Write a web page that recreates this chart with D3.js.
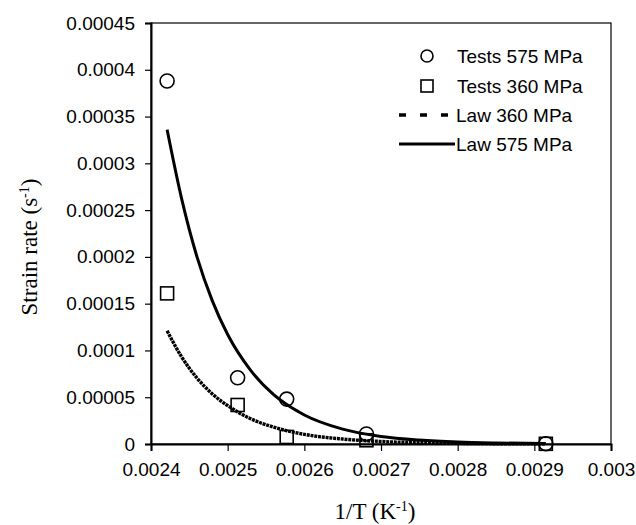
<!DOCTYPE html>
<html>
<head>
<meta charset="utf-8">
<script src="https://cdn.jsdelivr.net/npm/d3@7"></script>
<style>
  body { margin: 0; background: #fff; }
  svg { display: block; }
</style>
</head>
<body>
<svg id="chart" width="636" height="525"></svg>
<script>
// ---- data ----
const xTicks = [0.0024, 0.0025, 0.0026, 0.0027, 0.0028, 0.0029, 0.003];
const xTickLabels = ["0.0024", "0.0025", "0.0026", "0.0027", "0.0028", "0.0029", "0.003"];
const yTicks = [0, 0.00005, 0.0001, 0.00015, 0.0002, 0.00025, 0.0003, 0.00035, 0.0004, 0.00045];
const yTickLabels = ["0", "0.00005", "0.0001", "0.00015", "0.0002", "0.00025", "0.0003", "0.00035", "0.0004", "0.00045"];

// test points (1/T, strain rate)
const testX = [0.002421, 0.002513, 0.002577, 0.002681, 0.002915];
const tests575 = [0.000388, 0.0000708, 0.000048, 0.0000107, 0.0000003];
const tests360 = [0.000161, 0.0000417, 0.0000075, 0.000004, 0.0000002];

// law curves
const lawX = [0.002421, 0.00244, 0.00246, 0.00248, 0.0025, 0.00253, 0.00256, 0.0026, 0.00265, 0.0027, 0.00275, 0.0028, 0.00285, 0.002915];
const law575 = [0.000336, 0.000262, 0.000200, 0.000153, 0.000117, 0.0000787, 0.0000527, 0.0000310, 0.0000159, 0.0000081, 0.0000042, 0.0000021, 0.0000011, 0.0000005];
const law360 = [0.000121, 0.0000930, 0.0000705, 0.0000535, 0.0000410, 0.0000270, 0.0000180, 0.0000103, 0.0000053, 0.0000027, 0.0000014, 0.0000007, 0.0000003, 0.0000001];

const legendLabels = ["Tests 575 MPa", "Tests 360 MPa", "Law 360 MPa", "Law 575 MPa"];

// ---- layout ----
const svg = d3.select("#chart");
const margin = {left: 151, top: 23, right: 25, bottom: 81};
const W = 636, H = 525;
const iw = W - margin.left - margin.right;
const ih = H - margin.top - margin.bottom;

const x = d3.scaleLinear().domain([0.0024, 0.003]).range([0, iw]);
const y = d3.scaleLinear().domain([0, 0.00045]).range([ih, 0]);

const g = svg.append("g").attr("transform", `translate(${margin.left},${margin.top})`);

// frame (top/right)
g.append("rect").attr("x", 0).attr("y", 0).attr("width", iw).attr("height", ih)
  .attr("fill", "none").attr("stroke", "#000").attr("stroke-width", 1.2);

const tickFont = "'Liberation Sans', Arial, sans-serif";

// x axis
const xAxis = d3.axisBottom(x).tickValues(xTicks)
  .tickFormat((d, i) => xTickLabels[i]).tickSize(7).tickPadding(12);
const gx = g.append("g").attr("transform", `translate(0,${ih})`).call(xAxis);
gx.select(".domain").attr("stroke-width", 2);
gx.selectAll(".tick line").attr("stroke-width", 1.2);
gx.selectAll("text").attr("font-family", tickFont).attr("font-size", 19).attr("fill", "#000");

// y axis
const yAxis = d3.axisLeft(y).tickValues(yTicks)
  .tickFormat((d, i) => yTickLabels[i]).tickSize(6).tickPadding(10);
const gy = g.append("g").call(yAxis);
gy.select(".domain").attr("stroke-width", 2);
gy.selectAll(".tick line").attr("stroke-width", 1.2);
gy.selectAll("text").attr("font-family", tickFont).attr("font-size", 19).attr("fill", "#000");

// curves
const line = d3.line().x(d => x(d[0])).y(d => y(d[1])).curve(d3.curveMonotoneX);
g.append("path").datum(lawX.map((v, i) => [v, law575[i]]))
  .attr("d", line).attr("fill", "none").attr("stroke", "#000").attr("stroke-width", 3);
g.append("path").datum(lawX.map((v, i) => [v, law360[i]]))
  .attr("d", line).attr("fill", "none").attr("stroke", "#000").attr("stroke-width", 3.4)
  .attr("stroke-dasharray", "3,0.8");

// markers
const r = 7;
g.selectAll(".c575").data(testX.map((v, i) => [v, tests575[i]])).enter().append("circle")
  .attr("cx", d => x(d[0])).attr("cy", d => y(d[1])).attr("r", r)
  .attr("fill", "none").attr("stroke", "#000").attr("stroke-width", 1.6);
const s = 13;
g.selectAll(".s360").data(testX.map((v, i) => [v, tests360[i]])).enter().append("rect")
  .attr("x", d => x(d[0]) - s / 2).attr("y", d => y(d[1]) - s / 2)
  .attr("width", s).attr("height", s)
  .attr("fill", "none").attr("stroke", "#000").attr("stroke-width", 1.6);

// legend
const lg = svg.append("g");
const rowsY = [56, 86, 115, 144];
const textX = [457, 457, 456, 456];
lg.append("circle").attr("cx", 427).attr("cy", rowsY[0]).attr("r", 6)
  .attr("fill", "none").attr("stroke", "#000").attr("stroke-width", 1.6);
lg.append("rect").attr("x", 421).attr("y", rowsY[1] - 6).attr("width", 12).attr("height", 12)
  .attr("fill", "none").attr("stroke", "#000").attr("stroke-width", 1.6);
lg.append("line").attr("x1", 399).attr("x2", 448).attr("y1", rowsY[2]).attr("y2", rowsY[2])
  .attr("stroke", "#000").attr("stroke-width", 3.5).attr("stroke-dasharray", "7,14");
lg.append("line").attr("x1", 399).attr("x2", 455).attr("y1", rowsY[3]).attr("y2", rowsY[3])
  .attr("stroke", "#000").attr("stroke-width", 3);
legendLabels.forEach((t, i) => {
  lg.append("text").attr("x", textX[i]).attr("y", rowsY[i]).attr("dy", "0.35em")
    .attr("font-family", tickFont).attr("font-size", 19).attr("fill", "#000").text(t);
});

// axis titles
const titleFont = "'Liberation Serif', 'Times New Roman', serif";
const xt = svg.append("text").attr("x", 375).attr("y", 519).attr("text-anchor", "middle")
  .attr("font-family", titleFont).attr("font-size", 23).attr("fill", "#000");
xt.append("tspan").text("1/T (K");
xt.append("tspan").attr("dy", -8).attr("font-size", 14).text("-1");
xt.append("tspan").attr("dy", 8).text(")");

const yt = svg.append("text").attr("transform", "translate(37,247) rotate(-90)")
  .attr("text-anchor", "middle")
  .attr("font-family", titleFont).attr("font-size", 23).attr("fill", "#000");
yt.append("tspan").text("Strain rate (s");
yt.append("tspan").attr("dy", -8).attr("font-size", 14).text("-1");
yt.append("tspan").attr("dy", 8).text(")");
</script>
</body>
</html>
